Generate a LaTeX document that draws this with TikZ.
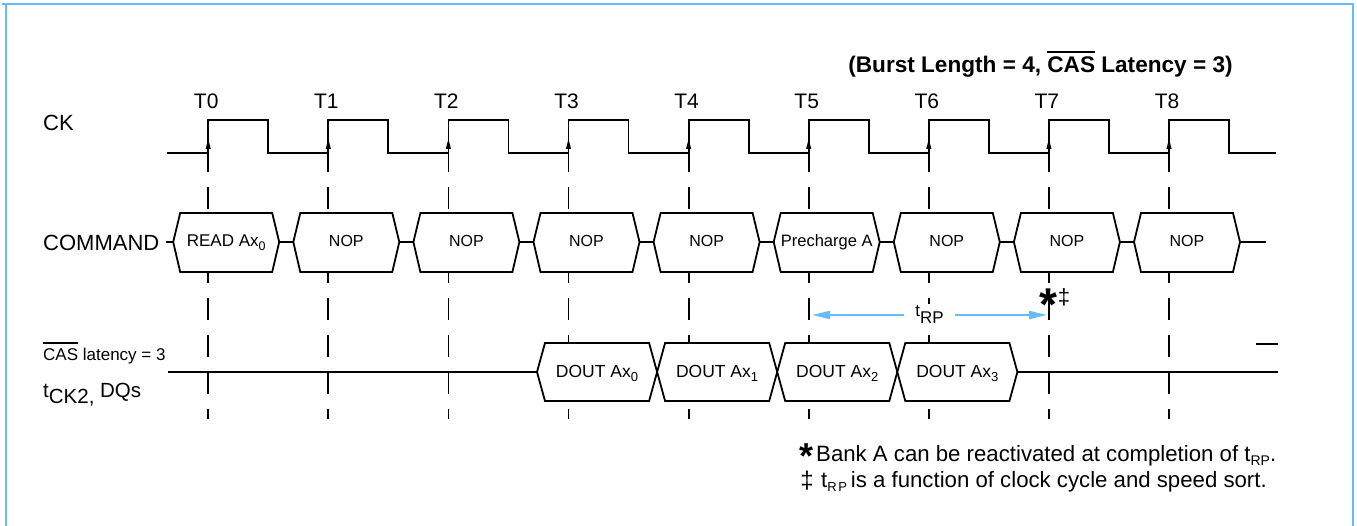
\documentclass[tikz,border=0pt]{standalone}
\usepackage{fontspec}
\setmainfont{Liberation Sans}
\usetikzlibrary{arrows.meta}
\definecolor{frameblue}{RGB}{102,187,255}
\newcommand{\fsz}[1]{\fontsize{#1}{#1}\selectfont}
\newcommand{\lsub}[2]{\raisebox{-#1pt}{#2}}
\newcommand{\ovl}[2]{\setbox0\hbox{#1}\rlap{\rule[#2]{\wd0}{1.7pt}}\box0\relax}
\begin{document}
\begin{tikzpicture}[x=1pt,y=-1pt,
  sig/.style={line width=1.8pt,line join=miter},
  vgrid/.style={line width=1.8pt,dash pattern=on 22pt off 15pt},
  hexbox/.style={line width=1.8pt,line join=miter,fill=white},
  txt/.style={inner sep=0pt,anchor=base},
  ltxt/.style={inner sep=0pt,anchor=base west},
  rpline/.style={line width=2pt,draw=frameblue,fill=frameblue}]
\useasboundingbox (0,0) rectangle (1357,526);
% frame
\draw[line width=2pt,frameblue] (2,4) -- (1354,4);
\draw[line width=2pt,frameblue] (5.7,4) -- (5.7,526);
\draw[line width=2pt,frameblue] (1353,4) -- (1353,526);
% title
\node[txt,font=\fsz{22.6}\bfseries] (title) at (1040.5,73) {(Burst Length = 4, \ovl{CAS}{20.3pt} Latency = 3)};
% left labels
\node[ltxt,font=\fsz{22}] (ck) at (43,131) {CK};
\node[ltxt,font=\fsz{22}] (command) at (43,251) {COMMAND};
\node[ltxt,font=\fsz{17}] (caslat) at (43,360.7) {\ovl{CAS}{16.5pt} latency = 3};
\node[ltxt,font=\fsz{20.5}] (tck) at (43,397) {t\lsub{6}{CK2,} DQs};
% clock
\draw[sig] (167,153) foreach \i in {0,...,8}{ -- ({208.2+120.1*\i},153) -- ++(0,-33) -- ++(60,0) -- ++(0,33)} -- (1276,153);
% grid lines, edge arrows, T labels
\foreach \i in {0,...,8}{
  \pgfmathsetmacro\tx{208.2+120.1*\i}
  \draw[vgrid] (\tx,150) -- (\tx,419);
  \fill (\tx,139) -- (\tx-2.6,149) -- (\tx+2.6,149) -- cycle;
  \node[txt,font=\fsz{21}] (tl\i) at (\tx-2,109) {T\i};
}
% command boxes
\foreach \i/\lab in {0/{\fsz{17}READ Ax\lsub{3.5}{\fsz{12.5}0}},1/NOP,2/NOP,3/NOP,4/NOP,5/{\fsz{16.5}Precharge A},6/NOP,7/NOP,8/NOP}{
  \pgfmathsetmacro\tx{208.2+120.1*\i}
  \draw[hexbox] (\tx-35,242) -- (\tx-28,213) -- (\tx+64,213) -- (\tx+71,242) -- (\tx+64,272) -- (\tx-28,272) -- cycle;
  \coordinate (cl\i) at (\tx-35,242);
  \coordinate (cr\i) at (\tx+71,242);
  \node[txt,font=\fsz{16}] (cmd\i) at (\tx+18,247) {\lab};
}
\draw[sig] (cl0) -- ++(-7,0);
\foreach \i [evaluate=\i as \j using int(\i+1)] in {0,...,7}{
  \draw[sig] (cr\i) -- (cl\j);
}
\draw[sig] (cr8) -- ++(26,0);
% DQ row
\coordinate (dqstart) at (168,372);
\coordinate (dqend) at (1278,372);
\foreach \k in {0,...,3}{
  \pgfmathsetmacro\bx{537+120.1*\k}
  \draw[hexbox] (\bx,372) -- (\bx+8,343) -- (\bx+112.1,343) -- (\bx+120.1,372) -- (\bx+112.1,401) -- (\bx+8,401) -- cycle;
  \coordinate (dl\k) at (\bx,372);
  \coordinate (dr\k) at (\bx+120.1,372);
  \node[txt,font=\fsz{17.5}] (dq\k) at (\bx+60,377.7) {DOUT Ax\lsub{4}{\fsz{13}\k}};
}
\draw[sig] (dqstart) -- (dl0);
\draw[sig] (dr3) -- (dqend);
\coordinate (nx0) at (1256,344);
\coordinate (nx1) at (1278,344);
\draw[sig] (nx0) -- (nx1);
% tRP arrow
\coordinate (rpL) at (812,315);
\coordinate (rpR) at (1047,315);
\draw[rpline,{Triangle[length=18pt,width=8pt]}-{Triangle[length=18pt,width=8pt]}] (rpL) -- node[fill=white,draw=none,inner xsep=11pt,inner ysep=2pt,text=black,font=\fsz{17}] (trp) {t\lsub{7}{RP}} (rpR);
% star and double dagger
\node[txt,font=\fsz{46}\bfseries] (star) at (1048,321) {*};
\node[txt,font=\fsz{22}] (ddag) at (1064,305) {‡};
% footnotes
\node[txt,font=\fsz{36}\bfseries] (fstar) at (806,468) {*};
\node[ltxt,font=\fsz{22.2}] (fn1) at (816,461) {Bank A can be reactivated at completion of t\lsub{4}{\fsz{14}RP}.};
\node[txt,font=\fsz{24}] (fddag) at (807,488) {‡};
\node[ltxt,font=\fsz{22.2}] (fn2) at (821,487) {t\lsub{4}{\fsz{13}R\hspace{1.5pt}P}\hspace{4pt}is a function of clock cycle and speed sort.};
\end{tikzpicture}
\end{document}
